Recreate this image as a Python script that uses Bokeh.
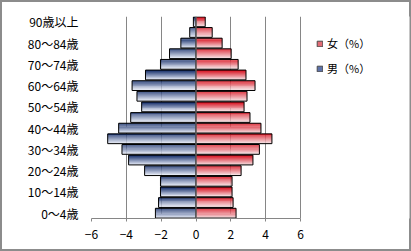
from bokeh.plotting import figure
from bokeh.models import (Range1d, FixedTicker, Span, Legend, LegendItem, ColumnDataSource,
                          InlineStyleSheet)
from bokeh.transform import dodge
from bokeh.embed import file_html
from bokeh.resources import INLINE

age_groups = ["0～4歳", "5～9歳", "10～14歳", "15～19歳", "20～24歳", "25～29歳",
              "30～34歳", "35～39歳", "40～44歳", "45～49歳", "50～54歳", "55～59歳",
              "60～64歳", "65～69歳", "70～74歳", "75～79歳", "80～84歳", "85～89歳",
              "90歳以上"]
male = [2.33, 2.15, 2.04, 2.04, 2.95, 3.87, 4.25, 5.07, 4.44, 3.75,
        3.12, 3.39, 3.67, 2.90, 2.04, 1.52, 0.87, 0.36, 0.15]
female = [2.30, 2.13, 2.07, 2.07, 2.59, 3.27, 3.64, 4.36, 3.73, 3.10,
          2.76, 2.93, 3.39, 2.87, 2.42, 2.02, 1.50, 0.93, 0.53]
x_ticks = [-6, -4, -2, 0, 2, 4, 6]
shown_labels = list(range(0, 19, 2))

FONT = "Noto Sans CJK JP"
GRID = "#868686"

src = ColumnDataSource(dict(
    y=list(range(len(age_groups))),
    male=[-v for v in male],
    female=female,
))

# frame widened to the right so the legend sits inside it; -6..6 spans 209 px
px_per_unit = 209 / 12
frame_w = 411 - 91 - 2
x_end = -6 + frame_w / px_per_unit

p = figure(width=411, height=251, output_backend="svg", toolbar_location=None,
           x_range=Range1d(-6, x_end), y_range=Range1d(-0.5, len(age_groups) - 0.5),
           min_border_left=91, min_border_right=2, min_border_top=16,
           min_border_bottom=33)
p.background_fill_color = "white"
p.border_fill_color = "white"
p.border_fill_alpha = 0
p.outline_line_color = None
p.stylesheets = [InlineStyleSheet(css=(
    ":host { background: #ffffff; box-shadow: inset 0 0 0 2px #8c8c8c; }"))]

p.ygrid.visible = False
p.xgrid.ticker = FixedTicker(ticks=[t for t in x_ticks if t != 0])
p.xgrid.grid_line_color = GRID
p.xgrid.grid_line_width = 1


def hexmix(c1, c2, t):
    a = [int(c1[i:i + 2], 16) for i in (1, 3, 5)]
    b = [int(c2[i:i + 2], 16) for i in (1, 3, 5)]
    return "#%02x%02x%02x" % tuple(round(a[i] + (b[i] - a[i]) * t) for i in range(3))


bar_h = 0.92
n = 10
sh = bar_h / n
for field, top_c, bot_c in (("male", "#17306c", "#e2e7f4"),
                            ("female", "#d81220", "#f4dadd")):
    for k in range(n):
        off = bar_h / 2 - sh * (k + 0.5)
        c = hexmix(top_c, bot_c, k / (n - 1))
        p.hbar(y=dodge("y", off, range=None), left=0, right=field, height=sh * 1.08,
               source=src, fill_color=c, line_color=None)
    p.hbar(y="y", left=0, right=field, height=bar_h, source=src,
           fill_alpha=0, line_color="black", line_width=1)

p.add_layout(Span(location=0, dimension="height", line_color=GRID, line_width=1))

# legend-only renderers (placed outside the visible y range)
rf = p.hbar(y=[-20], left=[0], right=[0], height=0, fill_color="#e36b74",
            line_color="#4a4a4a")
rm = p.hbar(y=[-20], left=[0], right=[0], height=0, fill_color="#5d72aa",
            line_color="#4a4a4a")
legend = Legend(items=[LegendItem(label="女（%）", renderers=[rf]),
                       LegendItem(label="男（%）", renderers=[rm])],
                location=(225, 142), orientation="vertical",
                glyph_width=7, glyph_height=7, label_height=12, spacing=9,
                label_standoff=4, padding=0, margin=0,
                border_line_alpha=0, background_fill_alpha=0,
                label_text_font=FONT, label_text_font_size="11px",
                label_text_color="black")
p.add_layout(legend, "center")

xa = p.xaxis[0]
xa.ticker = FixedTicker(ticks=x_ticks)
xa.bounds = (-6, 6)
xa.axis_line_color = GRID
xa.major_tick_line_color = GRID
xa.major_tick_out = 3
xa.major_tick_in = 0
xa.minor_tick_line_color = None
xa.major_label_text_font = FONT
xa.major_label_text_font_size = "12px"
xa.major_label_text_color = "black"
xa.major_label_standoff = 8

ya = p.yaxis[0]
ya.ticker = FixedTicker(ticks=shown_labels)
ya.major_label_overrides = {i: age_groups[i] for i in shown_labels}
ya.axis_line_color = None
ya.major_tick_line_color = None
ya.minor_tick_line_color = None
ya.major_tick_out = 0
ya.major_tick_in = 0
ya.major_label_standoff = 13
ya.major_label_text_font = FONT
ya.major_label_text_font_size = "12px"
ya.major_label_text_color = "black"

open("out.html", "w").write(file_html(p, INLINE))
